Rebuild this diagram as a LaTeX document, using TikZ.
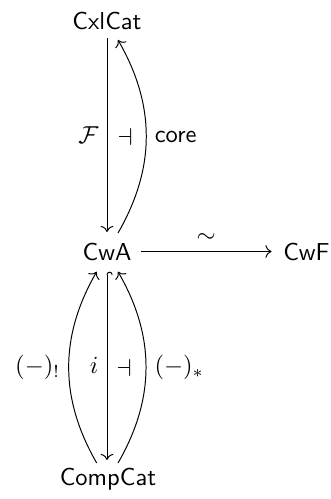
\documentclass[tikz,border=0pt]{standalone}
\usetikzlibrary{arrows.meta,calc}
\tikzset{
  obj/.style={font=\sffamily, inner sep=0pt, anchor=base},
  arr/.style={-{Computer Modern Rightarrow}, line width=0.4pt},
  hookarr/.style={{Hooks[right]}-{Computer Modern Rightarrow}, line width=0.4pt},
  lab/.style={inner sep=3.3pt}
}
\begin{document}
\begin{tikzpicture}[x=0.408pt,y=-0.408pt]
\useasboundingbox (0,0) rectangle (330,499);
\node[obj] (cxl) at (107,29.5) {CxlCat};
\node[obj] (cwa) at (107,261) {CwA};
\node[obj] (cwf) at (306.5,261) {CwF};
\node[obj] (cc) at (108,485) {CompCat};
% top adjunction
\draw[arr] ($(cxl.base)+(0,8.5)$) -- coordinate[midway] (fm) node[lab,midway,left] {$\mathcal{F}$} ($(cwa.base)+(0,-29)$);
\draw[arr] ($(cwa.base)+(11,-28)$) to[bend right=30] node[lab,midway,right] {\sffamily core} ($(cxl.base)+(11,10.5)$);
\node[inner sep=0pt] (adj1) at ($(fm)+(18,2)$) {$\dashv$};
% horizontal
\draw[arr] ($(cwa.base east)+(9,-9.5)$) -- node[lab,midway,above] {$\sim$} ($(cwf.base west)+(-11.3,-9.5)$);
% bottom
\draw[hookarr] ($(cwa.base)+(0,10.7)$) -- coordinate[midway] (im) node[lab,midway,left] {$i$} ($(cc.base)+(-1,-25)$);
\draw[arr] ($(cc.base)+(-11.3,-22)$) to[bend left=30] node[lab,midway,left] {$(-)_!$} ($(cwa.base)+(-10.3,10.7)$);
\draw[arr] ($(cc.base)+(10,-22)$) to[bend right=30] node[lab,midway,right] {$(-)_*$} ($(cwa.base)+(11,10.7)$);
\node[inner sep=0pt] (adj2) at ($(im)+(17,2)$) {$\dashv$};
\end{tikzpicture}
\end{document}
